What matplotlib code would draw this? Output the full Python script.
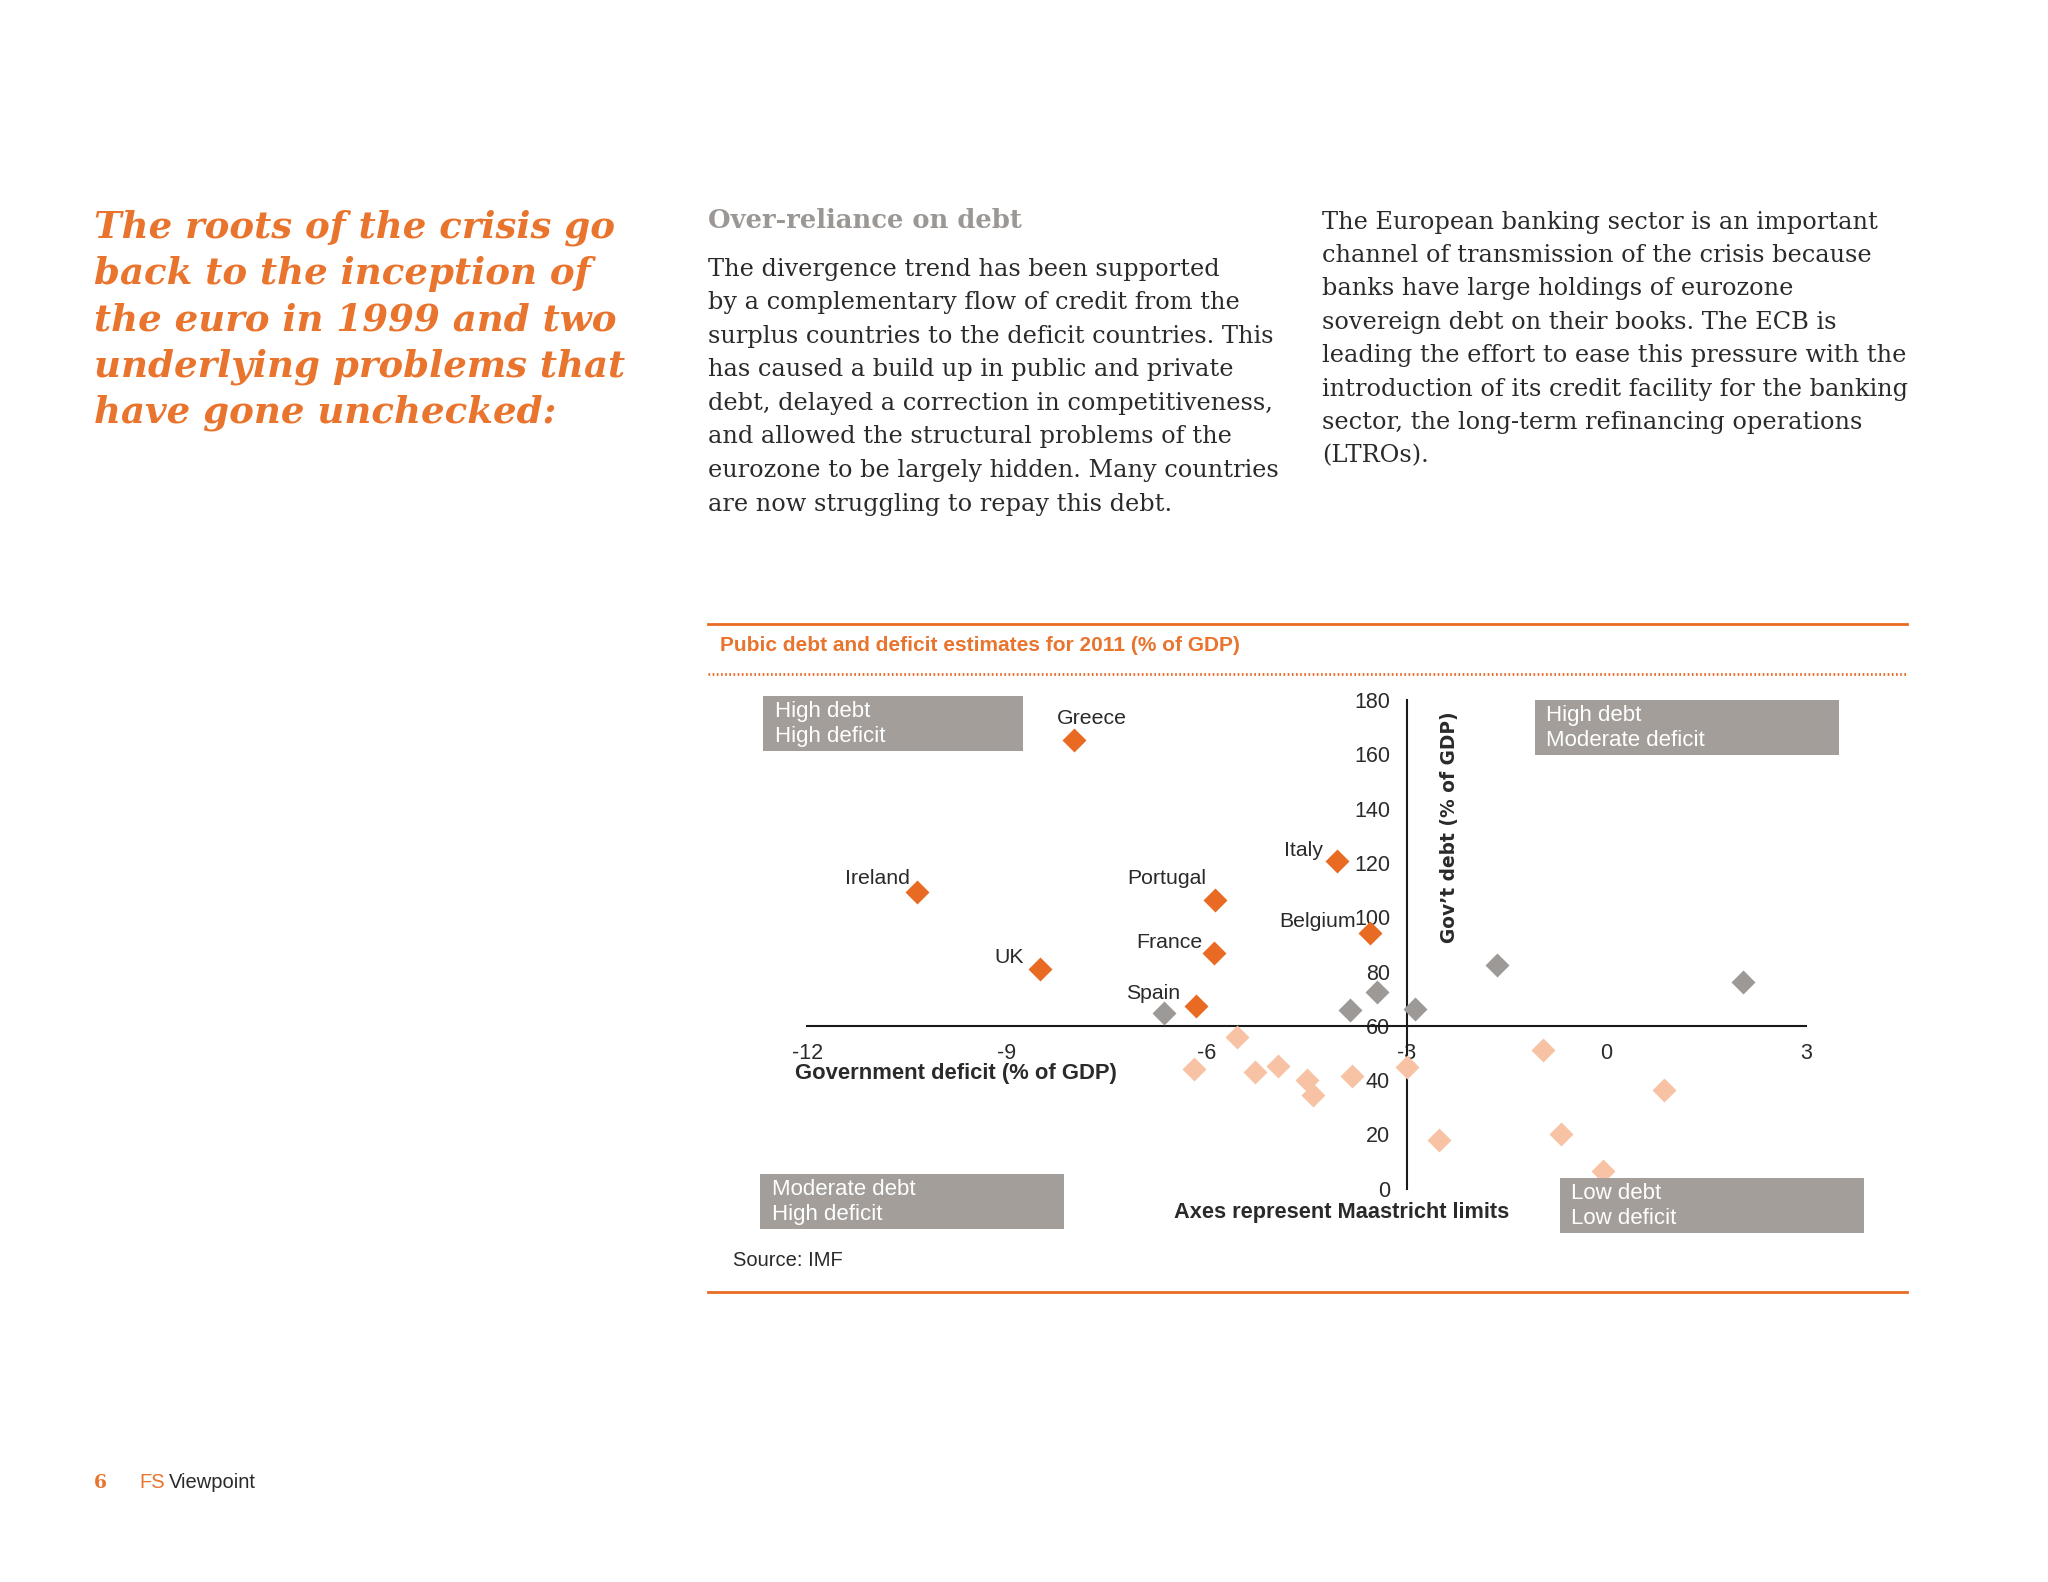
import matplotlib.pyplot as plt
from matplotlib.lines import Line2D
from matplotlib.patches import Rectangle

# Page text
heading = ["The roots of the crisis go",
           "back to the inception of",
           "the euro in 1999 and two",
           "underlying problems that",
           "have gone unchecked:"]
subhead = "Over-reliance on debt"
para1 = ["The divergence trend has been supported",
         "by a complementary flow of credit from the",
         "surplus countries to the deficit countries. This",
         "has caused a build up in public and private",
         "debt, delayed a correction in competitiveness,",
         "and allowed the structural problems of the",
         "eurozone to be largely hidden. Many countries",
         "are now struggling to repay this debt."]
para2 = ["The European banking sector is an important",
         "channel of transmission of the crisis because",
         "banks have large holdings of eurozone",
         "sovereign debt on their books. The ECB is",
         "leading the effort to ease this pressure with the",
         "introduction of its credit facility for the banking",
         "sector, the long-term refinancing operations",
         "(LTROs)."]

chart_title = "Pubic debt and deficit estimates for 2011 (% of GDP)"

# Named countries: deficit and debt, % of GDP
named = ["Greece", "Ireland", "UK", "Portugal", "France", "Spain", "Italy", "Belgium"]
named_deficit = [-8.0, -10.35, -8.5, -5.88, -5.9, -6.17, -4.05, -3.55]
named_debt = [165.2, 109.3, 81.0, 106.3, 86.7, 67.5, 120.7, 94.3]

# other countries above the 60% debt line
grey_deficit = [-6.65, -3.85, -3.45, -2.88, -1.65, 2.05]
grey_debt = [64.6, 66.0, 72.6, 66.4, 82.5, 76.0]

# countries below the 60% debt line
low_deficit = [-5.55, -6.2, -5.27, -4.93, -4.5, -4.41, -3.82, -3.0, -2.52, -0.95, -0.68, -0.05, 0.87]
low_debt = [56.0, 44.0, 43.2, 45.3, 40.0, 34.5, 41.5, 44.8, 18.0, 51.0, 20.0, 6.5, 36.5]

quadrants = ["High debt\nHigh deficit", "High debt\nModerate deficit",
             "Moderate debt\nHigh deficit", "Low debt\nLow deficit"]

x_ticks = [-12, -9, -6, -3, 0, 3]
y_ticks = [0, 20, 40, 60, 80, 100, 120, 140, 160, 180]

ORANGE = "#E96B23"
TXT_ORANGE = "#E8742E"
PEACH = "#F7C3A4"
GREY = "#9D9996"
BOX = "#A39E9A"
DARK = "#2A2A2A"

W, H = 1568, 1211  # layout measured on the page picture


def fx(x):
    return x / W


def fy(y):
    return 1 - y / H


fig = plt.figure(figsize=(20.48, 15.82), dpi=100)
fig.patch.set_facecolor("white")

# left heading
for i, line in enumerate(heading):
    fig.text(fx(72), fy(174 + i * 35.5), line, color=TXT_ORANGE, family="DejaVu Serif",
             weight="bold", style="italic", fontsize=26.7, va="center")

fig.text(fx(542), fy(169), subhead, color="#9B9795", family="DejaVu Serif",
         weight="bold", fontsize=18.6, va="center")
for i, line in enumerate(para1):
    fig.text(fx(542), fy(206 + i * 25.7), line, color=DARK, family="DejaVu Serif",
             fontsize=17.3, va="center")
for i, line in enumerate(para2):
    fig.text(fx(1012), fy(170 + i * 25.6), line, color=DARK, family="DejaVu Serif",
             fontsize=17.3, va="center")

# chart frame
fig.add_artist(Line2D([fx(542), fx(1460)], [fy(478), fy(478)], color=ORANGE, lw=2))
fig.add_artist(Line2D([fx(542), fx(1460)], [fy(516), fy(516)], color=ORANGE, lw=2,
                      linestyle=(0, (0.6, 0.9))))
fig.add_artist(Line2D([fx(542), fx(1460)], [fy(989), fy(989)], color=ORANGE, lw=2))
fig.text(fx(551), fy(494), chart_title, color=TXT_ORANGE, family="Liberation Sans",
         weight="bold", fontsize=15, va="center")

# scatter axes: x -12..3, y 0..180
ax = fig.add_axes([fx(618), fy(910), fx(1383) - fx(618), fy(536) - fy(910)])
ax.set_facecolor("none")
ax.set_xlim(-12, 3)
ax.set_ylim(0, 180)
for s in ["top", "right"]:
    ax.spines[s].set_visible(False)
ax.spines["left"].set_position(("data", -3))
ax.spines["bottom"].set_position(("data", 60))
for s in ["left", "bottom"]:
    ax.spines[s].set_color("#1a1a1a")
    ax.spines[s].set_linewidth(1.5)
ax.set_xticks(x_ticks)
ax.set_yticks(y_ticks)
ax.set_xticklabels([str(v) for v in x_ticks])
ax.set_yticklabels([str(v) for v in y_ticks])
ax.tick_params(axis="both", length=0, labelsize=15.5, labelcolor=DARK)
ax.tick_params(axis="x", pad=12)
ax.tick_params(axis="y", pad=12)
for lab in ax.get_xticklabels() + ax.get_yticklabels():
    lab.set_family("Liberation Sans")

ax.plot(low_deficit, low_debt, "D", color=PEACH, ms=12, mec="none", zorder=3, clip_on=False)
ax.plot(grey_deficit, grey_debt, "D", color=GREY, ms=12, mec="none", zorder=3, clip_on=False)
ax.plot(named_deficit, named_debt, "D", color=ORANGE, ms=12, mec="none", zorder=4, clip_on=False)

label_offsets = {"Greece": (13, 16, "center"), "Ireland": (-5, 10, "right"),
                 "UK": (-12, 8, "right"), "Portugal": (-6, 16, "right"),
                 "France": (-8, 8, "right"), "Spain": (-11, 9, "right"),
                 "Italy": (-10, 8, "right"), "Belgium": (-10, 8, "right")}
for name, xv, yv in zip(named, named_deficit, named_debt):
    dx, dy, ha = label_offsets[name]
    ax.annotate(name, (xv, yv), xytext=(dx, dy), textcoords="offset points",
                ha=ha, va="center", fontsize=15.3, color=DARK, family="Liberation Sans")

# quadrant boxes
boxes = [(584, 533, 783, 575), (1175, 536, 1408, 578),
         (582, 899, 815, 941), (1194, 902, 1427, 944)]
for text, (x0, y0, x1, y1) in zip(quadrants, boxes):
    fig.add_artist(Rectangle((fx(x0), fy(y1)), fx(x1) - fx(x0), fy(y0) - fy(y1),
                             transform=fig.transFigure, facecolor=BOX, edgecolor="none"))
    fig.text(fx(x0 + 9), fy((y0 + y1) / 2), text, color="white", family="Liberation Sans",
             fontsize=16, va="center", linespacing=1.25)

fig.text(fx(609), fy(822), "Government deficit (% of GDP)", color=DARK,
         family="Liberation Sans", weight="bold", fontsize=15.8, va="center")
fig.text(fx(1110), fy(633), "Gov\u2019t debt (% of GDP)", color=DARK, family="DejaVu Sans",
         weight="bold", fontsize=13.4, va="center", ha="center", rotation=90)
fig.text(fx(899), fy(928), "Axes represent Maastricht limits", color=DARK,
         family="Liberation Sans", weight="bold", fontsize=15.7, va="center")
fig.text(fx(561), fy(965), "Source: IMF", color=DARK, family="Liberation Sans",
         fontsize=14.5, va="center")

# footer
fig.text(fx(72), fy(1135), "6", color=TXT_ORANGE, family="DejaVu Serif", weight="bold",
         fontsize=13.5, va="center")
fig.text(fx(107), fy(1135), "FS", color=TXT_ORANGE, family="Liberation Sans",
         fontsize=14.5, va="center")
fig.text(fx(129), fy(1135), "Viewpoint", color=DARK, family="Liberation Sans",
         fontsize=14.5, va="center")

fig.savefig("out.png", dpi=100, facecolor="white")
